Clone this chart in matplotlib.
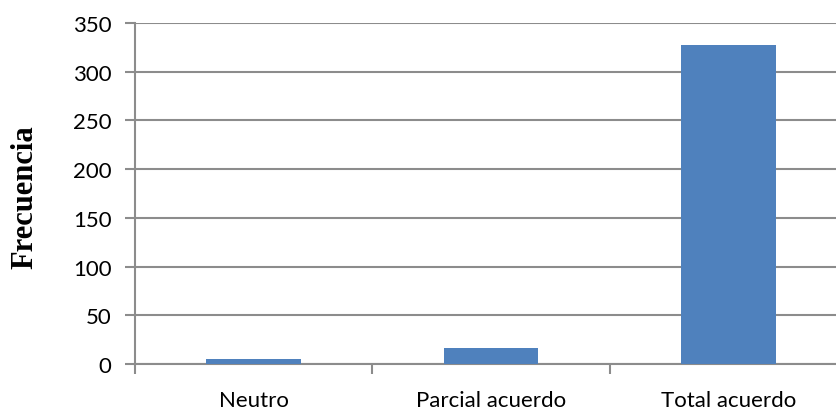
import matplotlib
matplotlib.use("Agg")
import matplotlib.pyplot as plt
from matplotlib.ticker import FixedLocator

# Respuestas y su frecuencia
categorias = ["Neutro", "Parcial acuerdo", "Total acuerdo"]
frecuencias = [5, 16, 327]
yticks = [0, 50, 100, 150, 200, 250, 300, 350]

fig = plt.figure(figsize=(8.37, 4.10), dpi=100)
ax = fig.add_axes([135 / 837, 45 / 410, 712 / 837, 341 / 410])

pos = list(range(len(categorias)))
ax.bar(pos, frecuencias, width=0.4, color="#4F81BD", zorder=3)

ax.set_xlim(-0.5, len(categorias) - 0.5)
ax.set_ylim(0, 350)
ax.set_yticks(yticks)
ax.yaxis.grid(True, color="#8c8c8c", linewidth=1.5, zorder=0)

# marcas entre categorías, etiquetas centradas
ax.xaxis.set_major_locator(FixedLocator([p - 0.5 for p in pos] + [len(pos) - 0.5]))
ax.xaxis.set_minor_locator(FixedLocator(pos))
ax.xaxis.set_major_formatter(plt.NullFormatter())
ax.set_xticks(pos, minor=True)
ax.set_xticklabels(categorias, minor=True)
ax.tick_params(axis="x", which="minor", length=0, pad=19)
ax.tick_params(axis="x", which="major", length=7, width=1.5, color="#8c8c8c")
ax.tick_params(axis="y", length=7, width=1.5, color="#8c8c8c", pad=10)

for lab in ax.get_xticklabels(minor=True) + ax.get_yticklabels():
    lab.set_fontfamily("Lato")
    lab.set_fontsize(16)

for s in ["top", "right"]:
    ax.spines[s].set_visible(False)
for s in ["left", "bottom"]:
    ax.spines[s].set_color("#8c8c8c")
    ax.spines[s].set_linewidth(1.5)

fig.text(25 / 837, 0.52, "Frecuencia", rotation=90, ha="center", va="center",
         fontfamily="Liberation Serif", fontweight="bold", fontsize=22)

fig.savefig("out.png", dpi=100)
